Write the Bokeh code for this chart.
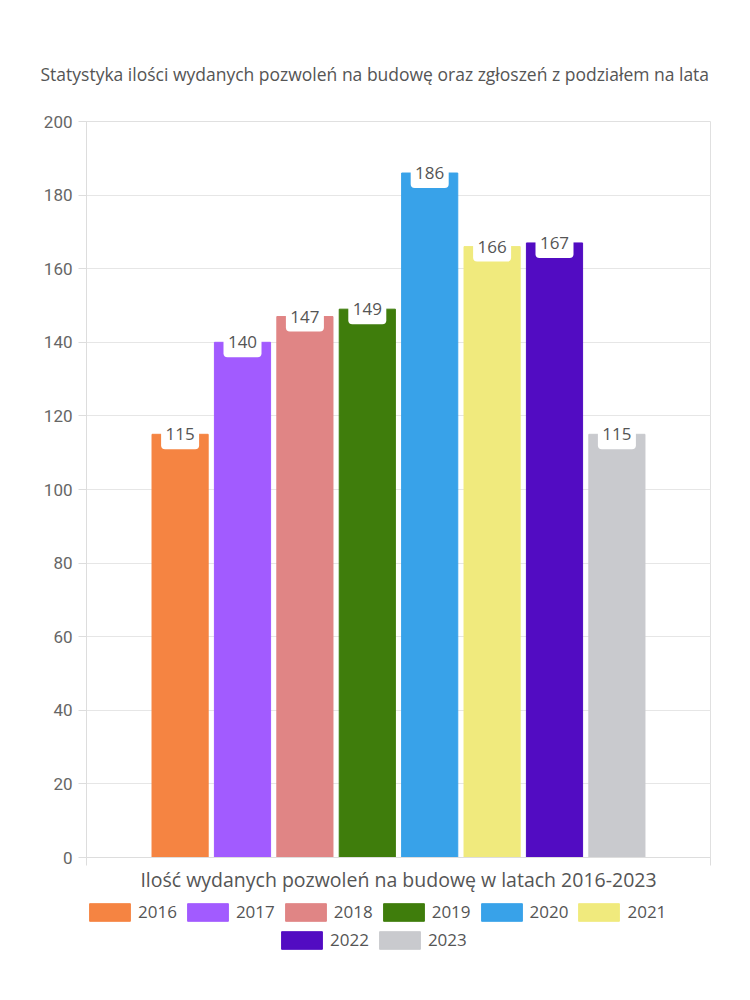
from bokeh.plotting import figure
from bokeh.layouts import column
from bokeh.models import (ColumnDataSource, Range1d, FixedTicker, Legend, LegendItem, Title)
from bokeh.core.properties import value
from bokeh.embed import file_html
from bokeh.resources import INLINE

years = ["2016", "2017", "2018", "2019", "2020", "2021", "2022", "2023"]
counts = [115, 140, 147, 149, 186, 166, 167, 115]
colors = ["#F58442", "#A25BFF", "#E08585", "#3F7D0C", "#38A2E9", "#F0EA7D", "#520CC2", "#C9CACE"]
y_ticks = [0, 20, 40, 60, 80, 100, 120, 140, 160, 180, 200]
title_text = "Statystyka ilości wydanych pozwoleń na budowę oraz zgłoszeń z podziałem na lata"
x_label = "Ilość wydanych pozwoleń na budowę w latach 2016-2023"

FONT = "Open Sans"
TXT = "#555555"

src = ColumnDataSource(dict(
    x=list(range(len(years))),
    year=years,
    count=counts,
    color=colors,
    label=[str(c) for c in counts],
))

p = figure(width=750, height=895, output_backend="svg", toolbar_location=None,
           x_range=Range1d(-1.5, 8.5), y_range=Range1d(0, 200),
           min_border_left=86, min_border_right=40, min_border_top=121, min_border_bottom=37)
p.title = None

p.add_layout(Title(text=" ", text_font=FONT, text_font_size="14px"), "above")
p.add_layout(Title(text=title_text, align="left", text_font=FONT, text_font_size="17.5px",
                   text_color=TXT, text_font_style="normal", offset=-46), "above")

r = p.vbar(x="x", top="count", width=0.9, fill_color="color", line_color="color", source=src)

p.rect(x="x", y="count", width=38, height=30, width_units="screen", height_units="screen",
       fill_color="white", line_color=None, border_radius=4, source=src)
p.text(x="x", y="count", text="label", text_align="center", text_baseline="middle",
       text_font=value(FONT), text_font_size="17px", text_color=TXT, source=src)

p.xgrid.grid_line_color = None
p.ygrid.grid_line_color = "#e6e6e6"
p.ygrid.ticker = FixedTicker(ticks=y_ticks)
p.outline_line_color = "#e0e0e0"

p.yaxis.ticker = FixedTicker(ticks=y_ticks)
p.yaxis.axis_line_color = "#dddddd"
p.yaxis.major_tick_line_color = "#dddddd"
p.yaxis.major_tick_out = 8
p.yaxis.major_tick_in = 0
p.yaxis.minor_tick_line_color = None
p.yaxis.major_label_text_font = "Roboto"
p.yaxis.major_label_text_font_size = "17px"
p.yaxis.major_label_text_color = "#666666"
p.yaxis.major_label_standoff = 6

p.xaxis.ticker = FixedTicker(ticks=[-1.5, 8.5])
p.xaxis.major_label_text_font_size = "0px"
p.xaxis.major_label_text_color = None
p.xaxis.axis_line_color = "#dddddd"
p.xaxis.major_tick_line_color = "#dddddd"
p.xaxis.major_tick_out = 8
p.xaxis.major_tick_in = 0
p.xaxis.minor_tick_line_color = None
p.xaxis.axis_label = x_label
p.xaxis.axis_label_text_font = FONT
p.xaxis.axis_label_text_font_size = "19.5px"
p.xaxis.axis_label_text_font_style = "normal"
p.xaxis.axis_label_text_color = TXT
p.xaxis.axis_label_standoff = 0

# legend strip (separate figure; its frame is aligned with the main frame)
p2 = figure(width=750, height=105, output_backend="svg", toolbar_location=None,
            x_range=Range1d(0, 750), y_range=Range1d(1000, 1105),
            min_border=0, x_axis_location=None, y_axis_location=None)
p2.title = None
p2.grid.visible = False
p2.outline_line_color = None
r2 = p2.vbar(x="x", top="count", width=0.9, fill_color="color", line_color="color", source=src)

def make_legend(idx, loc):
    items = [LegendItem(label=years[i], renderers=[r2], index=i) for i in idx]
    return Legend(items=items, orientation="horizontal", location=loc,
                  glyph_width=51, glyph_height=22, label_standoff=3, spacing=5,
                  padding=0, margin=0, border_line_color=None, background_fill_alpha=0,
                  label_text_font=FONT, label_text_font_size="17px", label_text_color=TXT,
                  label_height=22)

p2.add_layout(make_legend(range(0, 6), (-2, 77)), "center")
p2.add_layout(make_legend(range(6, 8), (190, 49)), "center")

layout = column(p, p2, spacing=0)
open("out.html", "w").write(file_html(layout, INLINE))
